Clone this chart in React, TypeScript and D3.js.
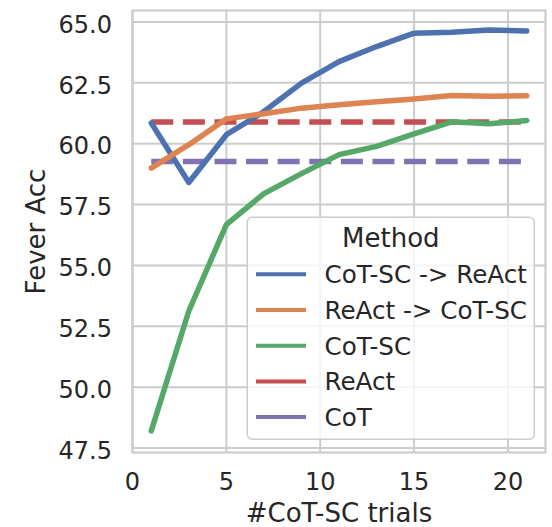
import React from "react";
import * as d3 from "d3";

const trials = [1, 3, 5, 7, 9, 11, 13, 15, 17, 19, 21];
const cotscReact = [60.85, 58.41, 60.37, 61.32, 62.49, 63.37, 63.99, 64.54, 64.58, 64.67, 64.63];
const reactCotsc = [59.0, 59.96, 61.02, 61.23, 61.46, 61.6, 61.72, 61.84, 61.98, 61.95, 61.97];
const cotsc = [48.21, 53.13, 56.68, 57.95, 58.77, 59.55, 59.89, 60.4, 60.9, 60.82, 60.95];
const reactValue = 60.89;
const cotValue = 59.27;

const xTicks = [0, 5, 10, 15, 20];
const yTicks = [47.5, 50.0, 52.5, 55.0, 57.5, 60.0, 62.5, 65.0];

const seriesNames = ["CoT-SC -> ReAct", "ReAct -> CoT-SC", "CoT-SC", "ReAct", "CoT"];
const seriesColors = ["#4C72B0", "#DD8452", "#55A868", "#C44E52", "#8172B3"];

const W = 552;
const H = 527;
const left = 132.5;
const right = 545.5;
const top = 10.5;
const bottom = 452.5;
const textColor = "#262626";
const gridColor = "#cccccc";
const font = "DejaVu Sans, sans-serif";

export default function App() {
  const x = d3.scaleLinear().domain([0, 22]).range([left, right]);
  const y = d3.scaleLinear().domain([47.32, 65.47]).range([bottom, top]);

  const line = d3
    .line<[number, number]>()
    .x((d) => x(d[0]))
    .y((d) => y(d[1]));

  const solidSeries = [cotscReact, reactCotsc, cotsc];
  const flatSeries = [reactValue, cotValue];

  const legX = 247.3;
  const legY = 217.3;
  const legW = 287;
  const legH = 222;
  const entryY0 = 274.3;
  const entryStep = 35.7;

  return (
    <div style={{ position: "fixed", left: 0, top: 0, background: "#fff" }}>
      <svg width={W} height={H} viewBox={`0 0 ${W} ${H}`} style={{ display: "block" }}>
        <rect x={0} y={0} width={W} height={H} fill="#fff" />
        {/* grid */}
        {xTicks.map((t) => (
          <line key={"gx" + t} x1={x(t)} x2={x(t)} y1={top} y2={bottom} stroke={gridColor} strokeWidth={2} />
        ))}
        {yTicks.map((t) => (
          <line key={"gy" + t} x1={left} x2={right} y1={y(t)} y2={y(t)} stroke={gridColor} strokeWidth={2} />
        ))}
        {/* spines */}
        <rect x={left} y={top} width={right - left} height={bottom - top} fill="none" stroke={gridColor} strokeWidth={2.2} />

        {/* flat dashed lines */}
        {flatSeries.map((v, i) => (
          <path
            key={"f" + i}
            d={line(trials.map((t) => [t, v] as [number, number])) || ""}
            fill="none"
            stroke={seriesColors[3 + i]}
            strokeWidth={5.5}
            strokeDasharray="22 9.6"
            strokeLinecap="butt"
          />
        ))}
        {/* solid lines */}
        {solidSeries.map((s, i) => (
          <path
            key={"s" + i}
            d={line(trials.map((t, j) => [t, s[j]] as [number, number])) || ""}
            fill="none"
            stroke={seriesColors[i]}
            strokeWidth={5.5}
            strokeLinecap="round"
            strokeLinejoin="round"
          />
        ))}

        {/* y ticks */}
        {yTicks.map((t) => (
          <text
            key={"ty" + t}
            x={112}
            y={y(t) + 10.7}
            textAnchor="end"
            fontFamily={font}
            fontSize={24}
            fill={textColor}
          >
            {t.toFixed(1)}
          </text>
        ))}
        {/* x ticks */}
        {xTicks.map((t) => (
          <text key={"tx" + t} x={x(t)} y={490} textAnchor="middle" fontFamily={font} fontSize={24} fill={textColor}>
            {t}
          </text>
        ))}
        {/* axis labels */}
        <text x={(left + right) / 2} y={521.5} textAnchor="middle" fontFamily={font} fontSize={26} fill={textColor}>
          #CoT-SC trials
        </text>
        <text
          transform={`translate(45, ${(top + bottom) / 2}) rotate(-90)`}
          textAnchor="middle"
          fontFamily={font}
          fontSize={26}
          fill={textColor}
        >
          Fever Acc
        </text>

        {/* legend */}
        <rect
          x={legX}
          y={legY}
          width={legW}
          height={legH}
          rx={5}
          ry={5}
          fill="#fff"
          fillOpacity={0.8}
          stroke={gridColor}
          strokeWidth={1.5}
        />
        <text x={legX + legW / 2} y={246.7} textAnchor="middle" fontFamily={font} fontSize={26} fill={textColor}>
          Method
        </text>
        {seriesNames.map((name, i) => (
          <g key={"l" + i}>
            <line
              x1={256}
              x2={306}
              y1={entryY0 + i * entryStep}
              y2={entryY0 + i * entryStep}
              stroke={seriesColors[i]}
              strokeWidth={4}
            />
            <text x={324.5} y={entryY0 + i * entryStep + 9} fontFamily={font} fontSize={24.6} fill={textColor}>
              {name}
            </text>
          </g>
        ))}
      </svg>
    </div>
  );
}
